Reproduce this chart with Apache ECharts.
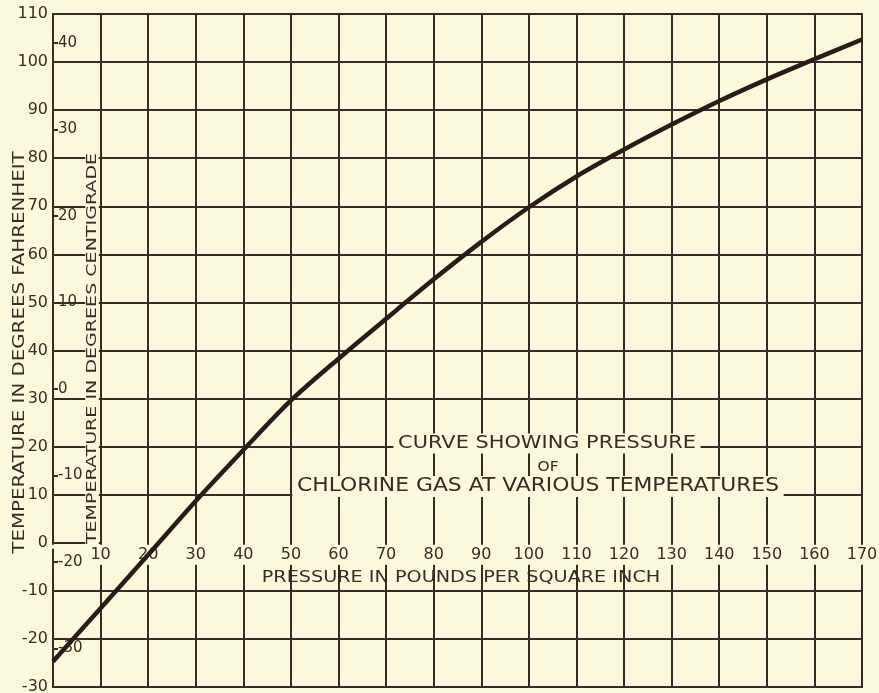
<!DOCTYPE html>
<html><head><meta charset="utf-8">
<script src="https://cdn.jsdelivr.net/npm/echarts@6/dist/echarts.min.js"></script>
<style>html,body{margin:0;padding:0;background:#fbf9dc}#c{width:879px;height:693px}</style>
</head><body><div id="c"></div>
<script>
// ---- data ----
const pressure = [0, 10, 20, 30, 40, 50, 60, 70, 80, 90, 100, 110, 120, 130, 140, 150, 160, 170];
const tempF    = [-24.7, -13.6, -2.5, 8.7, 19.3, 29.6, 38.3, 46.6, 54.8, 62.6, 69.8, 76.2, 81.8, 87.0, 91.9, 96.4, 100.6, 104.7];
const fahrenheitTicks = [-30, -20, -10, 0, 10, 20, 30, 40, 50, 60, 70, 80, 90, 100, 110];
const centigradeTicks = [40, 30, 20, 10, 0, -10, -20, -30];
const titleLines = ['CURVE SHOWING PRESSURE', 'OF', 'CHLORINE GAS AT VARIOUS TEMPERATURES'];
const xAxisTitle = 'PRESSURE IN POUNDS PER SQUARE INCH';
const yAxisTitleF = 'TEMPERATURE IN DEGREES FAHRENHEIT';
const yAxisTitleC = 'TEMPERATURE IN DEGREES CENTIGRADE';

const BG = '#fbf9dc';
const INK = '#3a2a24';
const CURVE = '#2a1b18';
const FONT = '"DejaVu Sans", sans-serif';
const f2c = f => (f - 32) * 5 / 9;

const F_MIN = fahrenheitTicks[0], F_MAX = fahrenheitTicks[fahrenheitTicks.length - 1];
const GRID = {left: 53, right: 17, top: 14, bottom: 6};
const plotHeight = 693 - GRID.top - GRID.bottom;
// distance from the bottom edge to the 0°F line, from the axis scale
const zeroOffset = (0 - F_MIN) / (F_MAX - F_MIN) * plotHeight;
// the 0°F rule is only drawn between 0 and 10 psi (labels sit on it further right)
const hLineColors = fahrenheitTicks.map(v => (v === 0 ? 'rgba(0,0,0,0)' : INK));

const chart = echarts.init(document.getElementById('c'), null, {renderer: 'canvas'});

const option = {
  backgroundColor: BG,
  animation: false,
  grid: Object.assign({show: true, borderColor: INK, borderWidth: 2, outerBoundsMode: 'none', containLabel: false}, GRID),
  xAxis: {
    type: 'value', min: 0, max: 170, interval: 10, position: 'bottom',
    offset: -zeroOffset,
    axisLine: {show: false, onZero: false},
    axisTick: {show: false},
    axisLabel: {
      formatter: v => (v === 0 ? '' : String(v)),
      color: INK, fontSize: 16, fontFamily: FONT, margin: 2,
      backgroundColor: BG, padding: [2, 1]
    },
    splitLine: {show: true, lineStyle: {color: INK, width: 2}}
  },
  yAxis: [
    {
      type: 'value', min: F_MIN, max: F_MAX, interval: 10, position: 'left',
      axisLine: {show: false, onZero: false}, axisTick: {show: false},
      axisLabel: {color: INK, fontSize: 16, fontFamily: FONT, margin: 5},
      splitLine: {show: true, lineStyle: {color: hLineColors, width: 2}}
    },
    {
      type: 'value', min: f2c(F_MIN), max: f2c(F_MAX), position: 'left',
      axisLine: {show: false, onZero: false},
      axisTick: {show: true, inside: true, length: 5, customValues: centigradeTicks, lineStyle: {color: INK, width: 2}},
      axisLabel: {inside: true, customValues: centigradeTicks, color: INK, fontSize: 15, fontFamily: FONT, margin: 5,
        formatter: v => String(Math.round(v))},
      splitLine: {show: false}
    }
  ],
  series: [{
    type: 'line', yAxisIndex: 0,
    data: pressure.map((p, i) => [p, tempF[i]]),
    smooth: 0.3, showSymbol: false,
    lineStyle: {color: CURVE, width: 4.5}, z: 5,
    markLine: {
      silent: true, symbol: 'none', label: {show: false}, z: 1,
      lineStyle: {color: INK, width: 2, type: 'solid'},
      data: [[{coord: [pressure[0], 0]}, {coord: [pressure[1], 0]}]]
    }
  }],
  graphic: [
    {type: 'text', z: 100, x: 20, y: 352.5, rotation: Math.PI / 2, scaleX: 1.32,
      style: {text: yAxisTitleF, font: '15px ' + FONT, fill: INK, align: 'center', verticalAlign: 'middle',
        textAlign: 'center', textVerticalAlign: 'middle'}},
    {type: 'text', z: 100, x: 92, y: 348.5, rotation: Math.PI / 2, scaleX: 1.27, scaleY: 0.9,
      style: {text: yAxisTitleC, font: '15px ' + FONT, fill: INK, align: 'center', verticalAlign: 'middle',
        textAlign: 'center', textVerticalAlign: 'middle', backgroundColor: BG, padding: [0, 2]}},
    {type: 'text', z: 100, x: 461, y: 578, scaleX: 1.2,
      style: {text: xAxisTitle, font: '16px ' + FONT, fill: INK, align: 'center', verticalAlign: 'middle',
        textAlign: 'center', textVerticalAlign: 'middle'}},
    {type: 'text', z: 100, x: 547, y: 443.5, scaleX: 1.16,
      style: {text: titleLines[0], font: '18px ' + FONT, fill: INK, align: 'center', verticalAlign: 'middle',
        textAlign: 'center', textVerticalAlign: 'middle', backgroundColor: BG, padding: [1, 4]}},
    {type: 'text', z: 100, x: 548, y: 467, scaleX: 1.1,
      style: {text: titleLines[1], font: '14px ' + FONT, fill: INK, align: 'center', verticalAlign: 'middle',
        textAlign: 'center', textVerticalAlign: 'middle', backgroundColor: BG, padding: [0, 3]}},
    {type: 'text', z: 100, x: 538, y: 486.5, scaleX: 1.15,
      style: {text: titleLines[2], font: '19px ' + FONT, fill: INK, align: 'center', verticalAlign: 'middle',
        textAlign: 'center', textVerticalAlign: 'middle', backgroundColor: BG, padding: [1, 4]}}
  ]
};
chart.setOption(option);
</script>
</body></html>
